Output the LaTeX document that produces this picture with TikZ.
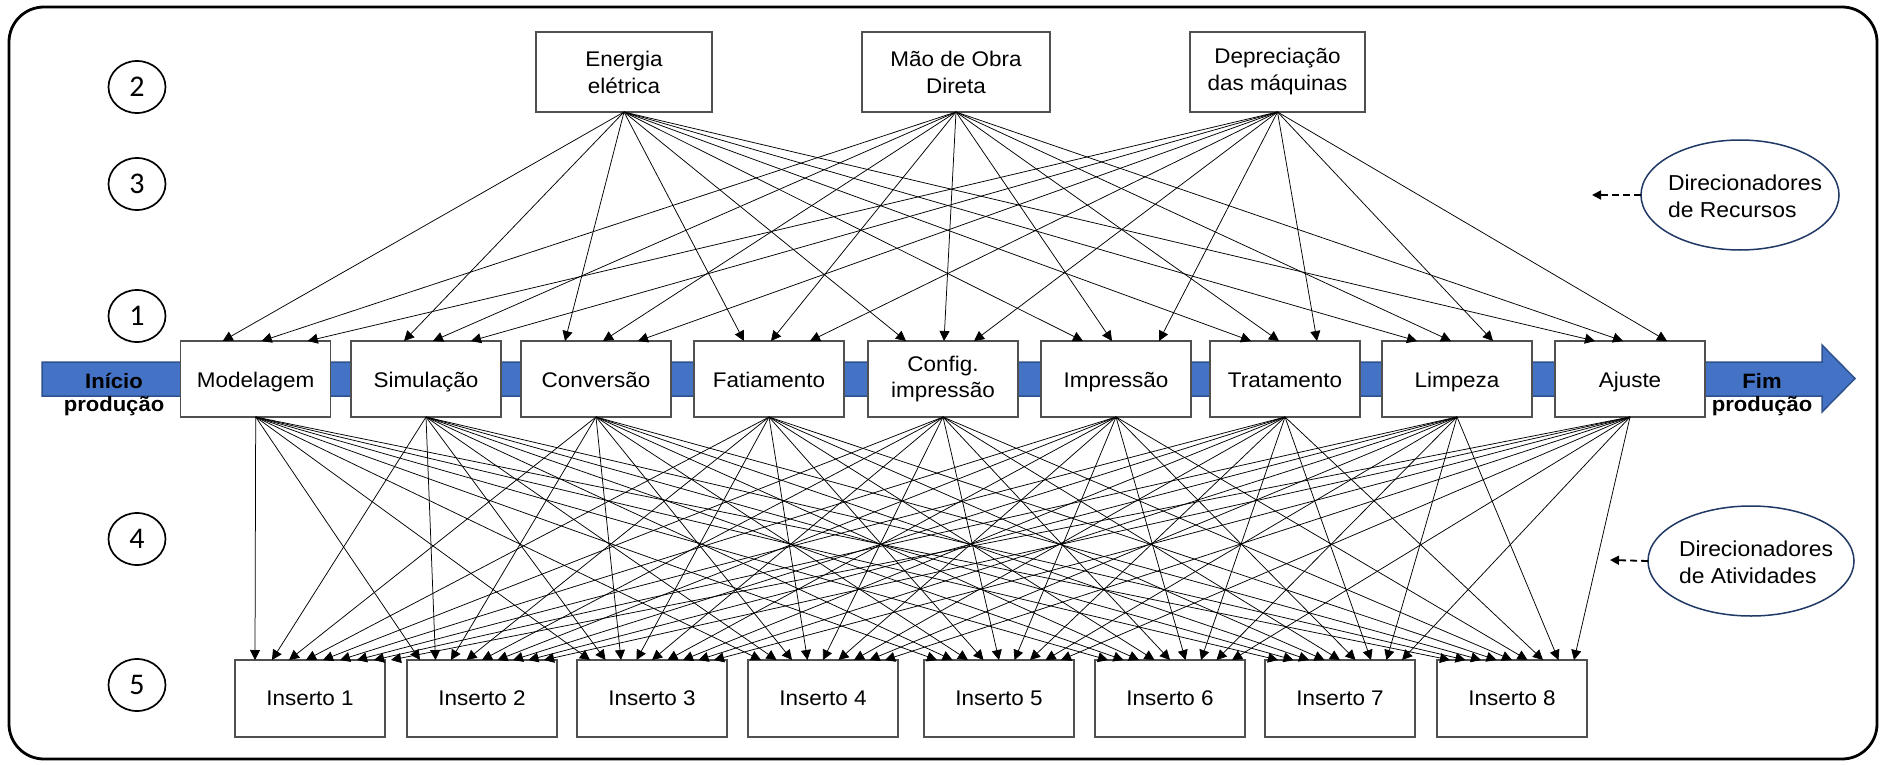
\documentclass[tikz,border=0pt]{standalone}
\usepackage{fontspec}
\setmainfont{Liberation Sans}[FakeStretch=1.06]
\newfontfamily\numfont{Carlito}
\usetikzlibrary{arrows.meta,shapes.geometric}
\definecolor{bandblue}{HTML}{4472C4}
\definecolor{bandedge}{HTML}{2F528F}
\definecolor{navy}{HTML}{203864}
\definecolor{boxedge}{HTML}{505050}
\begin{document}
\begin{tikzpicture}[x=1pt,y=-1pt,
  box/.style={draw=boxedge, line width=1.4pt, fill=white, inner sep=0pt, outer sep=0pt,
    minimum width=150pt, minimum height=76pt, font=\fontsize{21.2}{26}\selectfont, align=center},
  oneline/.style={text height=17pt, text depth=0pt},
  topbox/.style={box, minimum height=80pt, font=\fontsize{21.2}{27}\selectfont},
  insbox/.style={box, minimum height=77pt},
  num/.style={draw, line width=1.7pt, ellipse, minimum width=57pt, minimum height=52pt,
    inner sep=0pt, font=\numfont\fontsize{30}{30}\selectfont},
  drv/.style={draw=navy, line width=1.5pt, ellipse, inner sep=0pt, outer sep=0pt,
    minimum width=198pt, minimum height=110pt},
  drvtext/.style={inner sep=0pt, align=left, font=\fontsize{21.6}{27}\selectfont},
  link/.style={line width=0.75pt, -{Triangle[length=10pt,width=10pt]}},
  dlink/.style={line width=1.8pt, dash pattern=on 7pt off 4pt, -{Triangle[length=9pt,width=9pt]}},
  lbl/.style={font=\bfseries\fontsize{20.8}{26}\selectfont, anchor=base, inner sep=0pt}
]
\useasboundingbox (0,0) rectangle (1881,765);
% outer frame
\draw[line width=2.8pt, rounded corners=35pt] (9,7) rectangle (1877,759);
% production band arrow
\draw[fill=bandblue, draw=bandedge, line width=1.5pt]
  (42,362) -- (1822,362) -- (1822,345) -- (1855,378.5) -- (1822,412) -- (1822,396) -- (42,396) -- cycle;
\node[lbl] (ini)  at (114,388)   {Início};
\node[lbl] (inip) at (114,411.7) {produção};
\node[lbl] (fim)  at (1762,388)  {Fim};
\node[lbl] (fimp) at (1762,411.7) {produção};
% step numbers
\node[num] (n2) at (137,87)  {2};
\node[num] (n3) at (137,184) {3};
\node[num] (n1) at (137,316) {1};
\node[num] (n4) at (137,539) {4};
\node[num] (n5) at (137,685) {5};
% resources
\node[topbox, minimum width=176pt] (r1) at (624,72)    {Energia\\elétrica};
\node[topbox, minimum width=188pt] (r2) at (956,72)    {Mão de Obra\\Direta};
\node[topbox, minimum width=175pt] (r3) at (1277.5,72) {Depreciação\\das máquinas};
% activities
\node[box, oneline] (m1) at (255.7,379) {Modelagem};
\node[box, oneline] (m2) at (426,379)   {Simulação};
\node[box, oneline] (m3) at (596,379)   {Conversão};
\node[box, oneline] (m4) at (769,379)   {Fatiamento};
\node[box]          (m5) at (943,379)   {Config.\\impressão};
\node[box, oneline] (m6) at (1116,379)  {Impressão};
\node[box, oneline] (m7) at (1285,379)  {Tratamento};
\node[box, oneline] (m8) at (1457,379)  {Limpeza};
\node[box, oneline] (m9) at (1630,379)  {Ajuste};
% cost objects
\foreach \j/\x in {1/310,2/482,3/652,4/823,5/999,6/1170,7/1340,8/1512}
  \node[insbox] (s\j) at (\x,698.5) {Inserto \j};
% drivers
\node[drv] (dr1) at (1740,195) {};
\node[drvtext] (dr1t) at (1745,196) {Direcionadores\\de Recursos};
\node[drv, minimum width=206pt] (dr2) at (1751,561) {};
\node[drvtext] (dr2t) at (1756,562) {Direcionadores\\de Atividades};
\coordinate (t1) at (1592,195);
\coordinate (t2) at (1610,560);
\draw[dlink] (dr1.west) -- (t1);
\draw[dlink] (dr2.west) -- (t2);
% resource -> activity
\foreach \m/\a/\b/\c in {1/-33/6/52, 2/-22/7/45, 3/-31/7/42, 4/-25/2/41, 5/-37/1/31,
                         6/-33/-4/43, 7/-34/-6/32, 8/-40/-6/36, 9/-35/-7/37} {
  \draw[link] (r1.south) -- ([xshift=\a pt]m\m.north);
  \draw[link] (r2.south) -- ([xshift=\b pt]m\m.north);
  \draw[link] (r3.south) -- ([xshift=\c pt]m\m.north);
}
% activity -> cost object
\foreach \j/\st/\sp in {1/20/17,2/13/15.5,3/13/15.5,4/13/15.5,5/13/15.5,6/13/15.5,7/13/15.5,8/13/15.5} {
  \foreach \i in {1,...,9} {
    \pgfmathsetmacro\off{\st+\sp*(\i-1)}
    \draw[link] (m\i.south) -- ([xshift=\off pt]s\j.north west);
  }
}
\end{tikzpicture}
\end{document}
